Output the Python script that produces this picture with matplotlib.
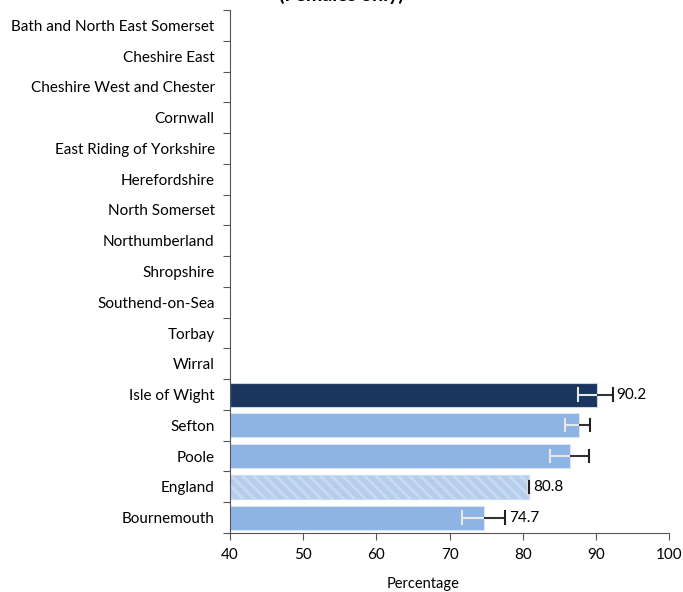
import matplotlib
matplotlib.use("Agg")
import matplotlib.pyplot as plt
import numpy as np

plt.rcParams['font.family'] = ['Lato', 'DejaVu Sans']
plt.rcParams['hatch.color'] = 'white'
plt.rcParams['hatch.linewidth'] = 2.0

categories = ["Bath and North East Somerset", "Cheshire East", "Cheshire West and Chester",
              "Cornwall", "East Riding of Yorkshire", "Herefordshire", "North Somerset",
              "Northumberland", "Shropshire", "Southend-on-Sea", "Torbay", "Wirral",
              "Isle of Wight", "Sefton", "Poole", "England", "Bournemouth"]
values = [np.nan]*12 + [90.2, 87.7, 86.5, 80.8, 74.7]
lower = [np.nan]*12 + [87.5, 85.8, 83.7, 80.7, 71.7]
upper = [np.nan]*12 + [92.3, 89.2, 89.0, 80.9, 77.6]
labels = [""]*12 + ["90.2", "", "", "80.8", "74.7"]
kinds = [""]*12 + ["highlight", "normal", "normal", "england", "normal"]

xticks = [40, 50, 60, 70, 80, 90, 100]

fig = plt.figure(figsize=(6.83, 5.92), dpi=100)
ax = fig.add_axes([230/683, 1-533/592, (669-230)/683, (533-10)/592])

dark = "#1a365f"
light = "#8eb4e3"
xmin = 40
y = np.arange(len(categories))
for i, (v, k) in enumerate(zip(values, kinds)):
    if np.isnan(v):
        continue
    if k == "highlight":
        ax.barh(i, v - xmin, left=xmin, height=0.78, color=dark, edgecolor="#c5d5ea", linewidth=0.8, zorder=2)
    elif k == "england":
        ax.barh(i, v - xmin, left=xmin, height=0.78, color="#b6cdec", edgecolor="#c9dbf2", hatch="\\\\\\", linewidth=0.8, zorder=2)
    else:
        ax.barh(i, v - xmin, left=xmin, height=0.78, color=light, edgecolor="#dbe6f4", linewidth=0.8, zorder=2)
    lo, hi = lower[i], upper[i]
    ax.plot([lo, v], [i, i], color="#e8e8e8", lw=1.5, zorder=3, solid_capstyle='butt')
    ax.plot([v, hi], [i, i], color="#333333", lw=1.5, zorder=3, solid_capstyle='butt')
    ax.plot([lo, lo], [i-0.2, i+0.2], color="#e8e8e8", lw=1.5, zorder=3)
    ax.plot([hi, hi], [i-0.2, i+0.2], color="#222222", lw=1.5, zorder=3)
    if labels[i]:
        ax.text(hi + 0.55, i, labels[i], va="center", ha="left", fontsize=11, color="#000000")

ax.set_xlim(40, 100)
ax.set_ylim(len(categories) - 0.5, -0.5)
ax.set_xticks(xticks)
ax.set_xticklabels([str(t) for t in xticks], fontsize=11)
ax.set_yticks(y)
ax.set_yticklabels(categories, fontsize=11)
ax.set_yticks(np.arange(len(categories) + 1) - 0.5, minor=True)
ax.tick_params(axis='y', which='major', length=0, pad=11)
ax.tick_params(axis='y', which='minor', length=5, width=0.8, color="#555555")
ax.tick_params(axis='x', which='major', length=5, width=0.8, color="#555555", pad=6)
for s in ["top", "right"]:
    ax.spines[s].set_visible(False)
ax.spines["left"].set_color("#555555")
ax.spines["bottom"].set_color("#555555")
ax.spines["left"].set_linewidth(0.8)
ax.spines["bottom"].set_linewidth(0.8)

ax.set_xlabel("Percentage", fontsize=10.5)
ax.xaxis.set_label_coords(0.44, -0.085)

fig.text(0.5, 1 - 1/592, "(Females only)", ha="center", va="baseline", fontsize=14, fontweight="bold")

fig.savefig("out.png", dpi=100)
